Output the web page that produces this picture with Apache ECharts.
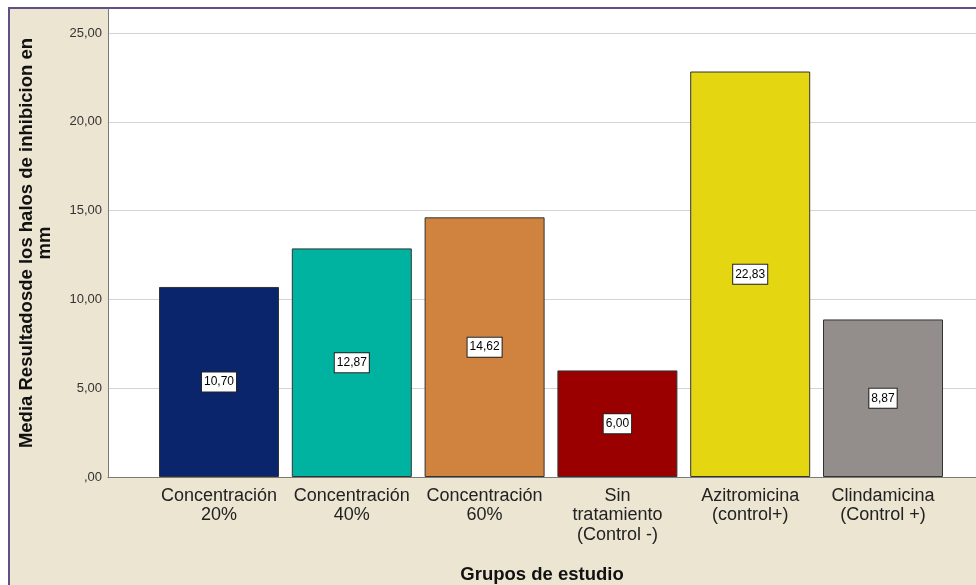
<!DOCTYPE html>
<html><head><meta charset="utf-8">
<script src="https://cdn.jsdelivr.net/npm/echarts@6/dist/echarts.min.js"></script>
<style>html,body{margin:0;padding:0;background:#fff}#c{width:976px;height:585px}</style>
</head><body><div id="c"></div>
<script>
const categories = ['Concentración\n20%', 'Concentración\n40%', 'Concentración\n60%', 'Sin\ntratamiento\n(Control -)', 'Azitromicina\n(control+)', 'Clindamicina\n(Control +)'];
const values = [10.70, 12.87, 14.62, 6.00, 22.83, 8.87];
const barColors = ['#0b256d', '#00b3a1', '#d0833f', '#9a0000', '#e4d712', '#938e8c'];
const yTicks = [0, 5, 10, 15, 20, 25];

const fmt = v => {
  const s = v.toFixed(2).replace('.', ',');
  return s.startsWith('0,') ? s.slice(1) : s;
};

const chart = echarts.init(document.getElementById('c'));
const font = 'Arial, "Liberation Sans", sans-serif';
const yMax = 26.35;
chart.setOption({
  backgroundColor: '#fff',
  animation: false,
  graphic: [{
    type: 'rect', z: -100, silent: true,
    shape: { x: 9, y: 8, width: 1000, height: 600 },
    style: { fill: '#ebe5d1', stroke: '#634f88', lineWidth: 2 }
  }],
  grid: [
    { left: 108, right: 0, top: 9, bottom: 108, show: true, backgroundColor: '#fff', borderWidth: 0, outerBoundsMode: 'none', containLabel: false },
    { left: 152.6, right: 26.6, top: 9, bottom: 108, outerBoundsMode: 'none', containLabel: false }
  ],
  xAxis: [
    { type: 'value', gridIndex: 0, min: 0, max: 1, axisLine: { show: true, lineStyle: { color: '#7a7a7a', width: 1 } },
      axisTick: { show: false }, axisLabel: { show: false }, splitLine: { show: false },
      name: 'Grupos de estudio', nameLocation: 'middle', nameGap: 88,
      nameTextStyle: { fontFamily: font, fontSize: 18.5, fontWeight: 'bold', color: '#111' } },
    { type: 'category', gridIndex: 1, data: categories, axisLine: { show: false }, axisTick: { show: false },
      axisLabel: { interval: 0, margin: 9, fontFamily: font, fontSize: 18, color: '#222', lineHeight: 19.5 } }
  ],
  yAxis: [
    { type: 'value', gridIndex: 0, min: 0, max: yMax, interval: 5,
      axisLine: { show: true, lineStyle: { color: '#7a7a7a', width: 1 } }, axisTick: { show: false },
      axisLabel: { margin: 6, fontFamily: font, fontSize: 13, color: '#333', padding: [6, 0, 0, 0],
        formatter: v => yTicks.includes(Math.round(v * 100) / 100) ? fmt(v) : '' },
      splitLine: { show: true, lineStyle: { color: ['#d4d4d4', '#d4d4d4', '#d4d4d4', '#d4d4d4', '#d4d4d4', '#d4d4d4', 'rgba(0,0,0,0)'], width: 1 } },
      name: 'Media Resultadosde los halos de inhibicion en\nmm', nameLocation: 'middle', nameGap: 54,
      nameTextStyle: { fontFamily: font, fontSize: 18.5, fontWeight: 'bold', color: '#111', lineHeight: 18 } },
    { type: 'value', gridIndex: 1, min: 0, max: yMax, show: false, splitLine: { show: false } }
  ],
  series: [{
    type: 'bar', xAxisIndex: 1, yAxisIndex: 1, barWidth: 120,
    data: values.map((v, i) => ({ value: v, itemStyle: { color: barColors[i] } })),
    itemStyle: { borderColor: '#333', borderWidth: 1 },
    label: { show: true, position: 'inside', formatter: p => fmt(p.value),
      backgroundColor: '#fff', borderColor: '#222', borderWidth: 1, padding: [4, 2, 3, 2],
      fontFamily: font, fontSize: 12, color: '#000' }
  }]
});
</script></body></html>
